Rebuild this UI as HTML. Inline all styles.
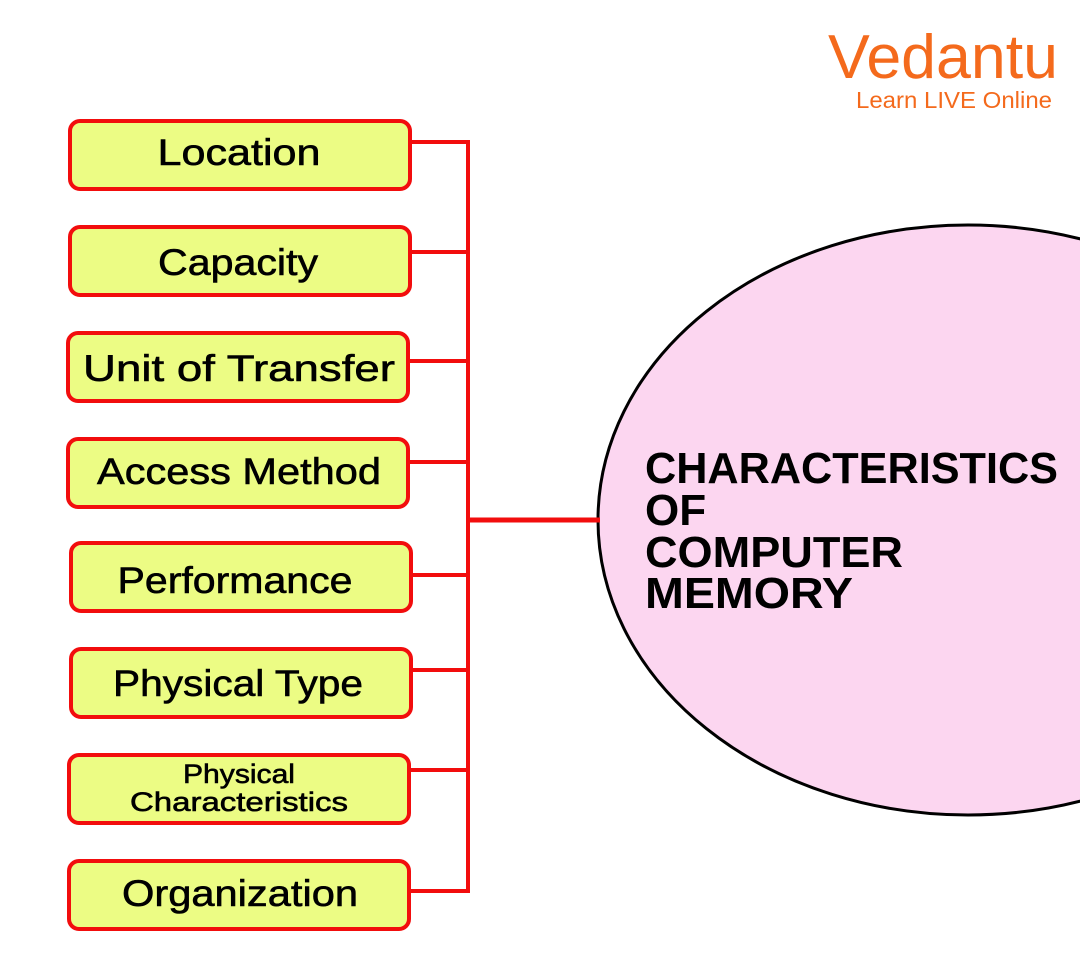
<!DOCTYPE html>
<html><head><meta charset="utf-8"><style>
html,body{margin:0;padding:0;background:#fff;}
svg{display:block}
.b{fill:#ecfc84;stroke:#f20d0d;stroke-width:4}
.t{font-family:"Liberation Sans",sans-serif;font-size:37px;fill:#000;text-anchor:middle;stroke:#000;stroke-width:0.6}
</style></head><body>
<svg width="1080" height="970" viewBox="0 0 1080 970">
<ellipse cx="968" cy="520" rx="370" ry="295" fill="#fcd6f0" stroke="#000" stroke-width="3"/>
<g font-family="'Liberation Sans',sans-serif" font-weight="bold" font-size="44" fill="#000">
<text x="645" y="483" textLength="413" lengthAdjust="spacingAndGlyphs">CHARACTERISTICS</text>
<text x="645" y="525">OF</text>
<text x="645" y="567" textLength="258" lengthAdjust="spacingAndGlyphs">COMPUTER</text>
<text x="645" y="608" textLength="208" lengthAdjust="spacingAndGlyphs">MEMORY</text>
</g>
<g stroke="#f20d0d" stroke-width="4" fill="none">
<line x1="468" y1="140" x2="468" y2="893"/>
<line x1="410" y1="142" x2="468" y2="142"/>
<line x1="410" y1="252" x2="468" y2="252"/>
<line x1="408" y1="361" x2="468" y2="361"/>
<line x1="408" y1="462" x2="468" y2="462"/>
<line x1="410" y1="575" x2="468" y2="575"/>
<line x1="410" y1="670" x2="468" y2="670"/>
<line x1="408" y1="770" x2="468" y2="770"/>
<line x1="408" y1="891" x2="468" y2="891"/>
<line x1="468" y1="520" x2="600" y2="520" stroke-width="5"/>
</g>
<rect class="b" x="70" y="121" width="340" height="68" rx="10"/>
<rect class="b" x="70" y="227" width="340" height="68" rx="10"/>
<rect class="b" x="68" y="333" width="340" height="68" rx="10"/>
<rect class="b" x="68" y="439" width="340" height="68" rx="10"/>
<rect class="b" x="71" y="543" width="340" height="68" rx="10"/>
<rect class="b" x="71" y="649" width="340" height="68" rx="10"/>
<rect class="b" x="69" y="755" width="340" height="68" rx="10"/>
<rect class="b" x="69" y="861" width="340" height="68" rx="10"/>
<text class="t" x="239" y="165" textLength="163" lengthAdjust="spacingAndGlyphs">Location</text>
<text class="t" x="238" y="275" textLength="160" lengthAdjust="spacingAndGlyphs">Capacity</text>
<text class="t" x="239" y="381" textLength="312" lengthAdjust="spacingAndGlyphs">Unit of Transfer</text>
<text class="t" x="239" y="484" textLength="284" lengthAdjust="spacingAndGlyphs">Access Method</text>
<text class="t" x="235" y="593" textLength="235" lengthAdjust="spacingAndGlyphs">Performance</text>
<text class="t" x="238" y="696" textLength="250" lengthAdjust="spacingAndGlyphs">Physical Type</text>
<text class="t" x="239" y="783" style="font-size:27px" textLength="112" lengthAdjust="spacingAndGlyphs">Physical</text>
<text class="t" x="239" y="811" style="font-size:27px" textLength="218" lengthAdjust="spacingAndGlyphs">Characteristics</text>
<text class="t" x="240" y="906" textLength="236" lengthAdjust="spacingAndGlyphs">Organization</text>
<text x="828" y="78" font-family="'Liberation Sans',sans-serif" font-size="62" fill="#f46a1c" textLength="230" lengthAdjust="spacingAndGlyphs">Vedantu</text>
<text x="856" y="108" font-family="'Liberation Sans',sans-serif" font-size="23" fill="#f46a1c" textLength="196" lengthAdjust="spacingAndGlyphs">Learn LIVE Online</text>
</svg>
</body></html>
